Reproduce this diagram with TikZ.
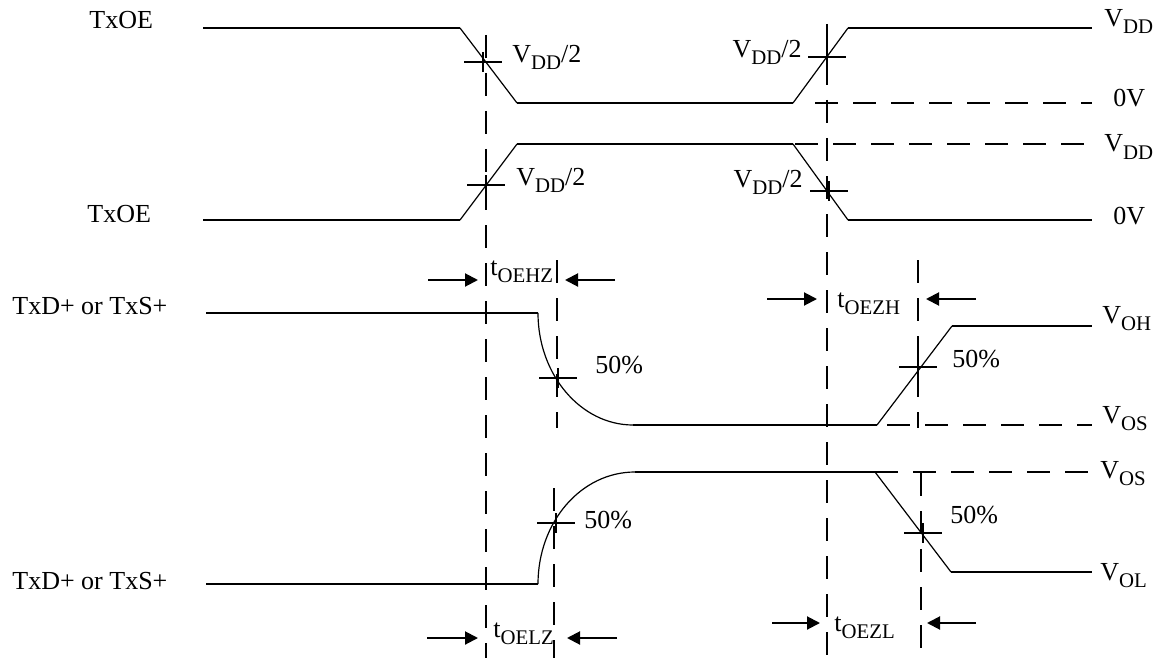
\documentclass[tikz,border=0pt]{standalone}
\usepackage{fontspec}
\setmainfont{Liberation Serif}
\usetikzlibrary{arrows.meta,positioning,calc}

\newcommand{\lsub}[1]{\raisebox{-3.5pt}{\fontsize{10.4}{12}\selectfont #1}}

\begin{document}
\begin{tikzpicture}[
  x=0.5pt, y=-0.5pt,
  font=\fontsize{13}{15}\selectfont,
  wave/.style={line width=1pt},
  slope/.style={line width=0.6pt},
  guide/.style={line width=1pt, dash pattern=on 11.5pt off 7.5pt},
  level/.style={line width=1pt, dash pattern=on 11.5pt off 7.5pt},
  tick/.style={line width=1pt},
  tarrow/.style={-{Triangle[length=6.5pt,width=6.5pt]}, line width=1pt},
  sig/.style={anchor=base west, inner sep=0pt},
  lvl/.style={anchor=base west, inner sep=0pt}
]
\useasboundingbox (0,0) rectangle (1167,658);

% Signal names
\node[sig] (oe1) at (89,29) {TxOE};
\node[sig] (oe2) at (87,222) {TxOE};
\node[sig] (tx1) at (12,314) {TxD+ or TxS+};
\node[sig] (tx2) at (12,589) {TxD+ or TxS+};

% Vertical guide lines
\draw[guide] (486,35) -- (486,658);
\draw[guide] (827,24) -- (827,658);
\draw[guide] (557,260) -- (557,428);
\draw[guide] (554,488) -- (554,658);
\draw[guide] (918,260) -- (918,428);
\draw[guide] (921,473) -- (921,658);

% TxOE (active low)
\draw[wave] (203,28) -- (460,28);
\draw[slope] (460,28) -- (517,103);
\draw[wave] (517,103) -- (793,103);
\draw[slope] (793,103) -- (848,28);
\draw[wave] (848,28) -- (1092,28);
\draw[level] (815,103) -- (1092,103);

% TxOE (active high)
\draw[wave] (203,220) -- (460,220);
\draw[slope] (460,220) -- (517,144);
\draw[wave] (517,144) -- (793,144);
\draw[slope] (793,144) -- (848,220);
\draw[wave] (848,220) -- (1092,220);
\draw[level] (795,144) -- (1092,144);

% TxD+ falling to common mode
\draw[wave] (206,313) -- (538,313);
\draw[slope] (538,313) .. controls (538,375) and (581,425) .. (633,425);
\draw[wave] (633,425) -- (877,425);
\draw[slope] (877,425) -- (952,326);
\draw[wave] (952,326) -- (1092,326);
\draw[level] (887,425) -- (1092,425);

% TxD+ rising to common mode
\draw[wave] (206,584) -- (538,584);
\draw[slope] (538,584) .. controls (538,522) and (581,472) .. (635,472);
\draw[wave] (635,472) -- (875,472);
\draw[slope] (875,472) -- (951,572);
\draw[wave] (951,572) -- (1092,572);
\draw[level] (875,472) -- (1092,472);

% 50% / midpoint marks
\foreach \cx/\cy in {483/62, 827/57, 486/185, 829/191, 558/378, 918/367, 556/523, 923/533}
  \draw[tick] (\cx-19,\cy) -- (\cx+19,\cy) (\cx,\cy-10) -- (\cx,\cy+10);

\node[lvl] (m1) at (512,63) {V\lsub{DD}/2};
\node[lvl, anchor=base east] (m2) at (802,58) {V\lsub{DD}/2};
\node[lvl] (m3) at (516,185) {V\lsub{DD}/2};
\node[lvl, anchor=base east] (m4) at (803,187) {V\lsub{DD}/2};
\node[lvl] (p1) at (595,373) {50\%};
\node[lvl] (p2) at (952,367) {50\%};
\node[lvl] (p3) at (584,528) {50\%};
\node[lvl] (p4) at (950,523) {50\%};

% Level names
\node[lvl] (vdd1) at (1104,27) {V\lsub{DD}};
\node[lvl] (gnd1) at (1113,107) {0V};
\node[lvl] (vdd2) at (1104,152) {V\lsub{DD}};
\node[lvl] (gnd2) at (1113,224) {0V};
\node[lvl] (voh) at (1102,323) {V\lsub{OH}};
\node[lvl] (vos1) at (1102,423) {V\lsub{OS}};
\node[lvl] (vos2) at (1100,478) {V\lsub{OS}};
\node[lvl] (vol) at (1100,580) {V\lsub{OL}};

% Timing arrows
\node[lvl] (tehz) at (490,275) {t\lsub{OEHZ}};
\draw[tarrow] (428,280) -- (478,280);
\draw[tarrow] (615,280) -- (565,280);

\node[lvl] (tezh) at (837,307) {t\lsub{OEZH}};
\draw[tarrow] (767,299) -- (817,299);
\draw[tarrow] (976,299) -- (926,299);

\node[lvl] (telz) at (493,637) {t\lsub{OELZ}};
\draw[tarrow] (427,638) -- (478,638);
\draw[tarrow] (617,638) -- (567,638);

\node[lvl] (tezl) at (834,631) {t\lsub{OEZL}};
\draw[tarrow] (772,623) -- (820,623);
\draw[tarrow] (976,623) -- (927,623);

\end{tikzpicture}
\end{document}
